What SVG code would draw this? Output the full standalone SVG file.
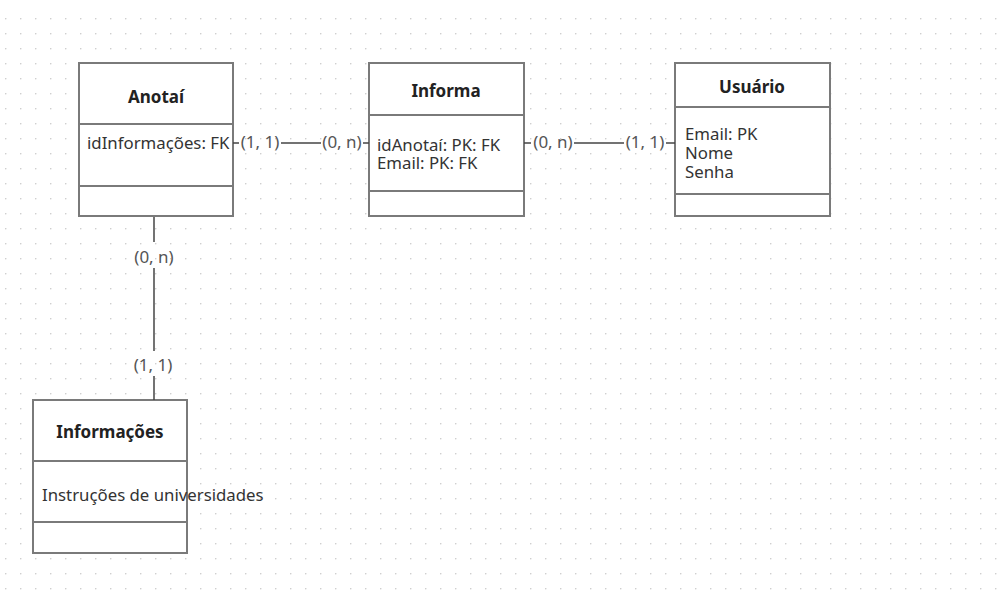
<svg xmlns="http://www.w3.org/2000/svg" width="1004" height="598" viewBox="0 0 1004 598">
<defs>
<pattern id="grid" x="5" y="3" width="15" height="15" patternUnits="userSpaceOnUse">
<circle cx="0.75" cy="0.75" r="0.75" fill="#c4c4c4"/>
</pattern>
</defs>
<style>
.box{fill:#ffffff;stroke:#7a7a7a;stroke-width:2}
.sep{stroke:#7a7a7a;stroke-width:2}
.title{font-family:"Noto Sans","Open Sans",sans-serif;font-weight:bold;font-size:17px;fill:#222;text-anchor:middle}
.attr{font-family:"Noto Sans","Open Sans",sans-serif;font-size:16.8px;fill:#333}
.lbl{font-family:"Noto Sans","Open Sans",sans-serif;font-size:17px;fill:#555;text-anchor:middle}
.conn{stroke:#444;stroke-width:1.5;fill:none}
</style>
<rect width="1004" height="598" fill="#ffffff"/>
<rect x="0" y="10" width="1004" height="585" fill="url(#grid)"/>

<g id="node-anotai">
<rect class="box" x="79" y="63" width="154" height="153"/>
<line class="sep" x1="79" y1="124" x2="233" y2="124"/>
<line class="sep" x1="79" y1="186" x2="233" y2="186"/>
<text class="title" x="156" y="103">Anotaí</text>
<text class="attr" x="87" y="149">idInformações: FK</text>
</g>

<g id="node-informa">
<rect class="box" x="369" y="63" width="155" height="153"/>
<line class="sep" x1="369" y1="115" x2="524" y2="115"/>
<line class="sep" x1="369" y1="191" x2="524" y2="191"/>
<text class="title" x="446" y="97">Informa</text>
<text class="attr" x="377" y="151">idAnotaí: PK: FK</text>
<text class="attr" x="377" y="169">Email: PK: FK</text>
</g>

<g id="node-usuario">
<rect class="box" x="675" y="63" width="155" height="153"/>
<line class="sep" x1="675" y1="107" x2="830" y2="107"/>
<line class="sep" x1="675" y1="194" x2="830" y2="194"/>
<text class="title" x="752" y="93">Usuário</text>
<text class="attr" x="685" y="140">Email: PK</text>
<text class="attr" x="685" y="159">Nome</text>
<text class="attr" x="685" y="178">Senha</text>
</g>

<g id="node-informacoes">
<rect class="box" x="33" y="400" width="154" height="153"/>
<line class="sep" x1="33" y1="461" x2="187" y2="461"/>
<line class="sep" x1="33" y1="522" x2="187" y2="522"/>
<text class="title" x="110" y="438">Informações</text>
<text class="attr" x="42" y="501">Instruções de universidades</text>
</g>

<g id="connectors">
<line class="conn" x1="233" y1="143" x2="239" y2="143"/>
<line class="conn" x1="281" y1="143" x2="321" y2="143"/>
<line class="conn" x1="363" y1="143" x2="369" y2="143"/>
<text class="lbl" x="260" y="148">(1, 1)</text>
<text class="lbl" x="342" y="148">(0, n)</text>

<line class="conn" x1="524" y1="143" x2="531" y2="143"/>
<line class="conn" x1="574" y1="143" x2="624" y2="143"/>
<line class="conn" x1="666" y1="143" x2="675" y2="143"/>
<text class="lbl" x="553" y="148">(0, n)</text>
<text class="lbl" x="645" y="148">(1, 1)</text>

<line class="conn" x1="154" y1="217" x2="154" y2="242"/>
<line class="conn" x1="154" y1="268" x2="154" y2="351"/>
<line class="conn" x1="154" y1="376" x2="154" y2="400"/>
<text class="lbl" x="154" y="263">(0, n)</text>
<text class="lbl" x="153" y="371">(1, 1)</text>
</g>
</svg>
